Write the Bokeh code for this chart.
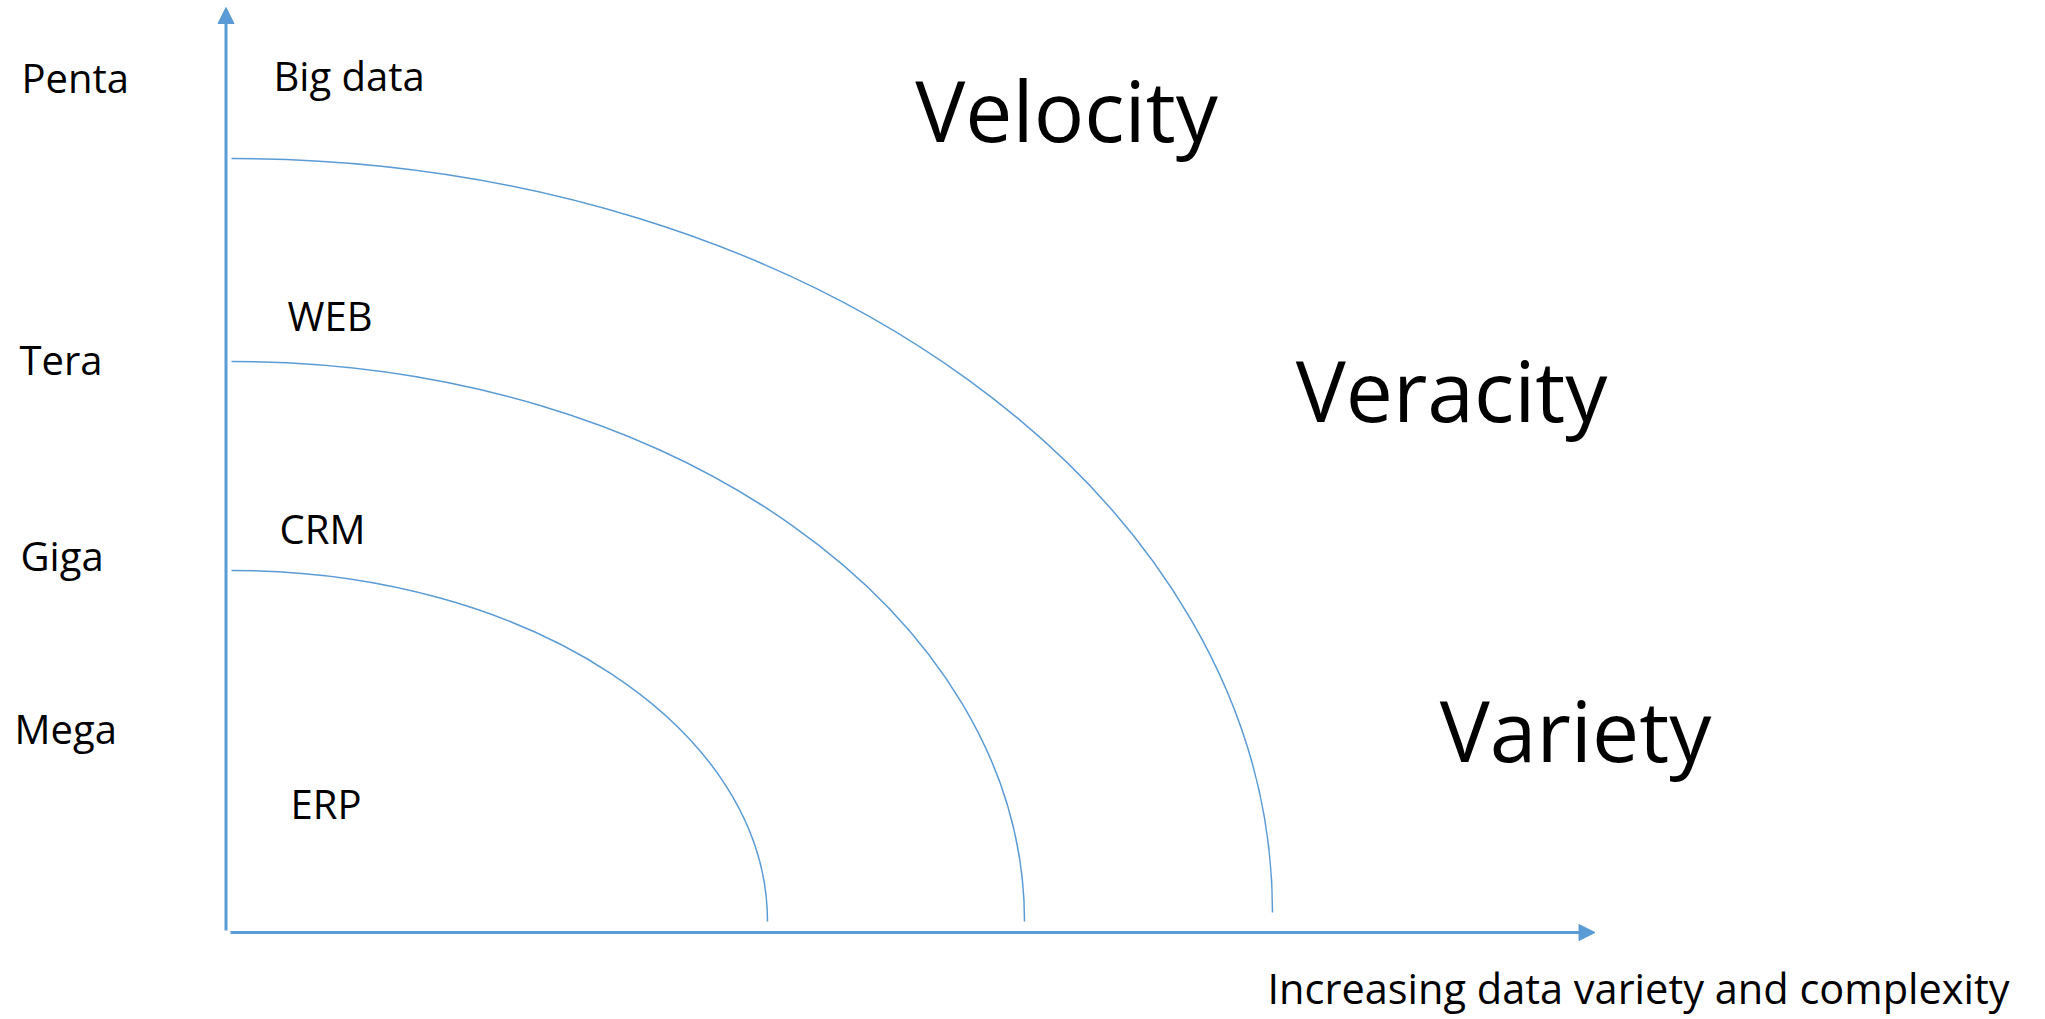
from bokeh.plotting import figure
from bokeh.models import Range1d, Arrow, NormalHead, ColumnDataSource
from bokeh.core.properties import value
from bokeh.embed import file_html
from bokeh.resources import INLINE

# ---- data (diagram units: 1 unit ~ 1 px, origin at the axes corner) ----
volume_levels = ["Mega", "Giga", "Tera", "Penta"]
volume_x = [-211.5, -205.5, -206.5, -204.5]
volume_y = [189, 362, 558, 840]          # text baselines

app_names = ["ERP", "CRM", "WEB", "Big data"]
app_x = [64.5, 53.5, 61.5, 47.5]
app_y = [114, 389, 602, 842]             # text baselines

arc_start_x = [5.5, 5.5, 5.5]
arc_base_y = [11, 11, 20]
arc_rx = [536, 793, 1041]
arc_ry = [351, 560, 754]

v_words = ["Velocity", "Veracity", "Variety"]
v_x = [840.5, 1225.5, 1349.5]
v_y = [792, 512, 172]                    # text baselines

x_label = "Increasing data variety and complexity"
x_label_x = [1041.5]
x_label_y = [-71]

axis_x_start, axis_x_end = 4.5, 1369
axis_y_start, axis_y_end = 2, 925

BLUE = "#5B9BD5"
FONT = "Open Sans"
SMALL = 40
BIG = 84
LABEL = 41.5
FIX = 0.375   # renderer places alphabetic baseline this many em too low

def base(ys, size):
    return [y + FIX * size for y in ys]

p = figure(width=2045, height=1019, output_backend="svg", toolbar_location=None,
           x_range=Range1d(-225.5, 1819.5), y_range=Range1d(-87, 932),
           x_axis_type=None, y_axis_type=None, min_border=0,
           background_fill_color="white", border_fill_color="white")
p.outline_line_color = None
p.grid.visible = False

# arcs as quarter ellipses (cubic bezier approximation)
k = 0.5523
arc_src = ColumnDataSource(dict(
    x0=arc_start_x,
    y0=[b + r for b, r in zip(arc_base_y, arc_ry)],
    x1=[s + r for s, r in zip(arc_start_x, arc_rx)],
    y1=arc_base_y,
    cx0=[s + k * r for s, r in zip(arc_start_x, arc_rx)],
    cy0=[b + r for b, r in zip(arc_base_y, arc_ry)],
    cx1=[s + r for s, r in zip(arc_start_x, arc_rx)],
    cy1=[b + k * r for b, r in zip(arc_base_y, arc_ry)],
))
p.bezier(x0="x0", y0="y0", x1="x1", y1="y1", cx0="cx0", cy0="cy0",
         cx1="cx1", cy1="cy1", source=arc_src, line_color=BLUE, line_width=1.5)

# axes arrows
p.add_layout(Arrow(x_start=0, y_start=axis_y_start, x_end=0, y_end=axis_y_end,
                   line_color=BLUE, line_width=3,
                   end=NormalHead(size=16, line_color=BLUE, fill_color=BLUE, line_width=1)))
p.add_layout(Arrow(x_start=axis_x_start, y_start=0, x_end=axis_x_end, y_end=0,
                   line_color=BLUE, line_width=3,
                   end=NormalHead(size=16, line_color=BLUE, fill_color=BLUE, line_width=1)))

# texts
p.text(x=volume_x, y=base(volume_y, SMALL), text=volume_levels, text_font=value(FONT),
       text_font_size=f"{SMALL}px", text_color="black", text_baseline="alphabetic",
       text_align="left")
p.text(x=app_x, y=base(app_y, SMALL), text=app_names, text_font=value(FONT),
       text_font_size=f"{SMALL}px", text_color="black", text_baseline="alphabetic",
       text_align="left")
p.text(x=v_x, y=base(v_y, BIG), text=v_words, text_font=value(FONT),
       text_font_size=f"{BIG}px", text_color="black", text_baseline="alphabetic",
       text_align="center")
p.text(x=x_label_x, y=base(x_label_y, LABEL), text=[x_label], text_font=value(FONT),
       text_font_size=f"{LABEL}px", text_color="black", text_baseline="alphabetic",
       text_align="left")

open("out.html", "w").write(file_html(p, INLINE))
